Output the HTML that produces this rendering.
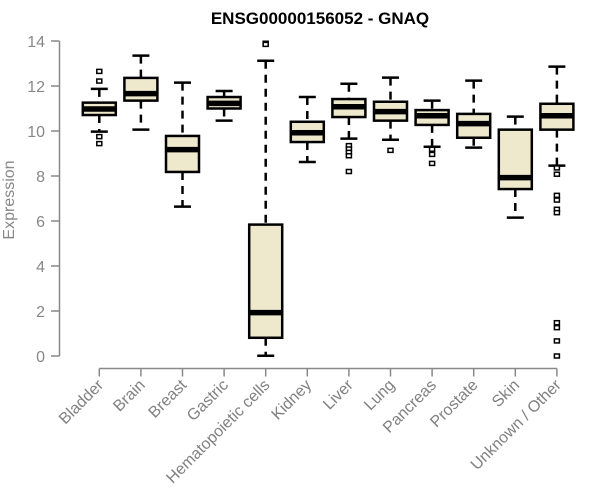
<!DOCTYPE html>
<html><head><meta charset="utf-8"><style>
html,body{margin:0;padding:0;background:#fff;}
svg{display:block;font-family:"Liberation Sans",sans-serif;}
</style></head><body>
<svg id="chart" width="600" height="500" viewBox="0 0 600 500" xmlns="http://www.w3.org/2000/svg">
<text x="320" y="24" text-anchor="middle" font-weight="bold" font-size="17" fill="#000">ENSG00000156052 - GNAQ</text>
<text transform="translate(14,200) rotate(-90)" text-anchor="middle" font-size="16" fill="#888">Expression</text>
<g id="yaxis"></g>
<g id="xaxis"></g>
<g id="boxes"></g>
</svg>
<script>
const categories = ["Bladder","Brain","Breast","Gastric","Hematopoietic cells","Kidney","Liver","Lung","Pancreas","Prostate","Skin","Unknown / Other"];
const whiskerLow = [9.97,10.06,6.64,10.46,0.01,8.62,9.66,9.61,9.30,9.26,6.15,8.46];
const q1 = [10.71,11.35,8.18,11.00,0.81,9.51,10.62,10.46,10.27,9.70,7.42,10.06];
const medians = [10.98,11.66,9.17,11.23,1.93,9.92,11.08,10.86,10.68,10.33,7.93,10.68];
const q3 = [11.26,12.36,9.78,11.51,5.84,10.41,11.42,11.30,10.93,10.76,10.06,11.21];
const whiskerHigh = [11.87,13.35,12.15,11.78,13.12,11.51,12.10,12.37,11.35,12.24,10.64,12.86];
const outliers = [[12.65,12.22,9.75,9.44],[],[],[],[13.9,13.85],[],[9.35,9.2,9.05,8.9,8.2],[9.14],[9.19,8.96,8.56],[],[],[8.36,8.08,7.14,6.93,6.52,6.37,1.48,1.26,0.67,0.0]];
const yTicks = [0,2,4,6,8,10,12,14];

const NS="http://www.w3.org/2000/svg";
const y = v => 356 - v*22.5;
const x = i => 99.3 + i*41.6;
function mk(tag, attrs, parent){const e=document.createElementNS(NS,tag);for(const k in attrs)e.setAttribute(k,attrs[k]);parent.appendChild(e);return e;}
const ya=document.getElementById('yaxis'), xa=document.getElementById('xaxis'), bx=document.getElementById('boxes');
let l=mk('line',{x1:59.5,x2:59.5,y1:y(14),y2:y(0),stroke:'#888','stroke-width':1.5},ya);


yTicks.forEach(t=>{
  const tk=mk('line',{x1:51,x2:59.5,y1:y(t),y2:y(t),stroke:'#888','stroke-width':1.5},ya);
  
  
  const tx=mk('text',{x:45,y:y(t)+6,'text-anchor':'end','font-size':16,fill:'#888'},ya);
  
  
  tx.textContent=t;
});
l=mk('line',{x1:x(0),x2:x(categories.length-1),y1:368.5,y2:368.5,stroke:'#888','stroke-width':1.5},xa);


categories.forEach((c,i)=>{
  const cx=x(i);
  const tk=mk('line',{x1:cx,x2:cx,y1:368.5,y2:376.5,stroke:'#888','stroke-width':1.5},xa);
  
  
  const tx=mk('text',{transform:`translate(${cx+5},${386}) rotate(-45)`,'text-anchor':'end','font-size':16,fill:'#808080'},xa);
  
  
  tx.textContent=c;
  const g=mk('g',{},bx);
  
  
  const w=33,cap=17;
  mk('line',{x1:cx,x2:cx,y1:y(whiskerHigh[i]),y2:y(q3[i]),stroke:'#000','stroke-width':2.5,'stroke-dasharray':'8,6'},g);
  mk('line',{x1:cx,x2:cx,y1:y(q1[i]),y2:y(whiskerLow[i]),stroke:'#000','stroke-width':2.5,'stroke-dasharray':'8,6'},g);
  mk('line',{x1:cx-cap/2,x2:cx+cap/2,y1:y(whiskerHigh[i]),y2:y(whiskerHigh[i]),stroke:'#000','stroke-width':2.5},g);
  mk('line',{x1:cx-cap/2,x2:cx+cap/2,y1:y(whiskerLow[i]),y2:y(whiskerLow[i]),stroke:'#000','stroke-width':2.5},g);
  mk('rect',{x:cx-w/2,y:y(q3[i]),width:w,height:y(q1[i])-y(q3[i]),fill:'#EEE8CD',stroke:'#000','stroke-width':2.5},g);
  mk('line',{x1:cx-w/2,x2:cx+w/2,y1:y(medians[i]),y2:y(medians[i]),stroke:'#000','stroke-width':5.5},g);
  outliers[i].forEach(o=>{
    const p=mk('rect',{x:cx-2.5,y:y(o)-2,width:5,height:4,fill:'#fff',stroke:'#000','stroke-width':1.5},g);
    
    
  });
});
</script>
</body></html>
